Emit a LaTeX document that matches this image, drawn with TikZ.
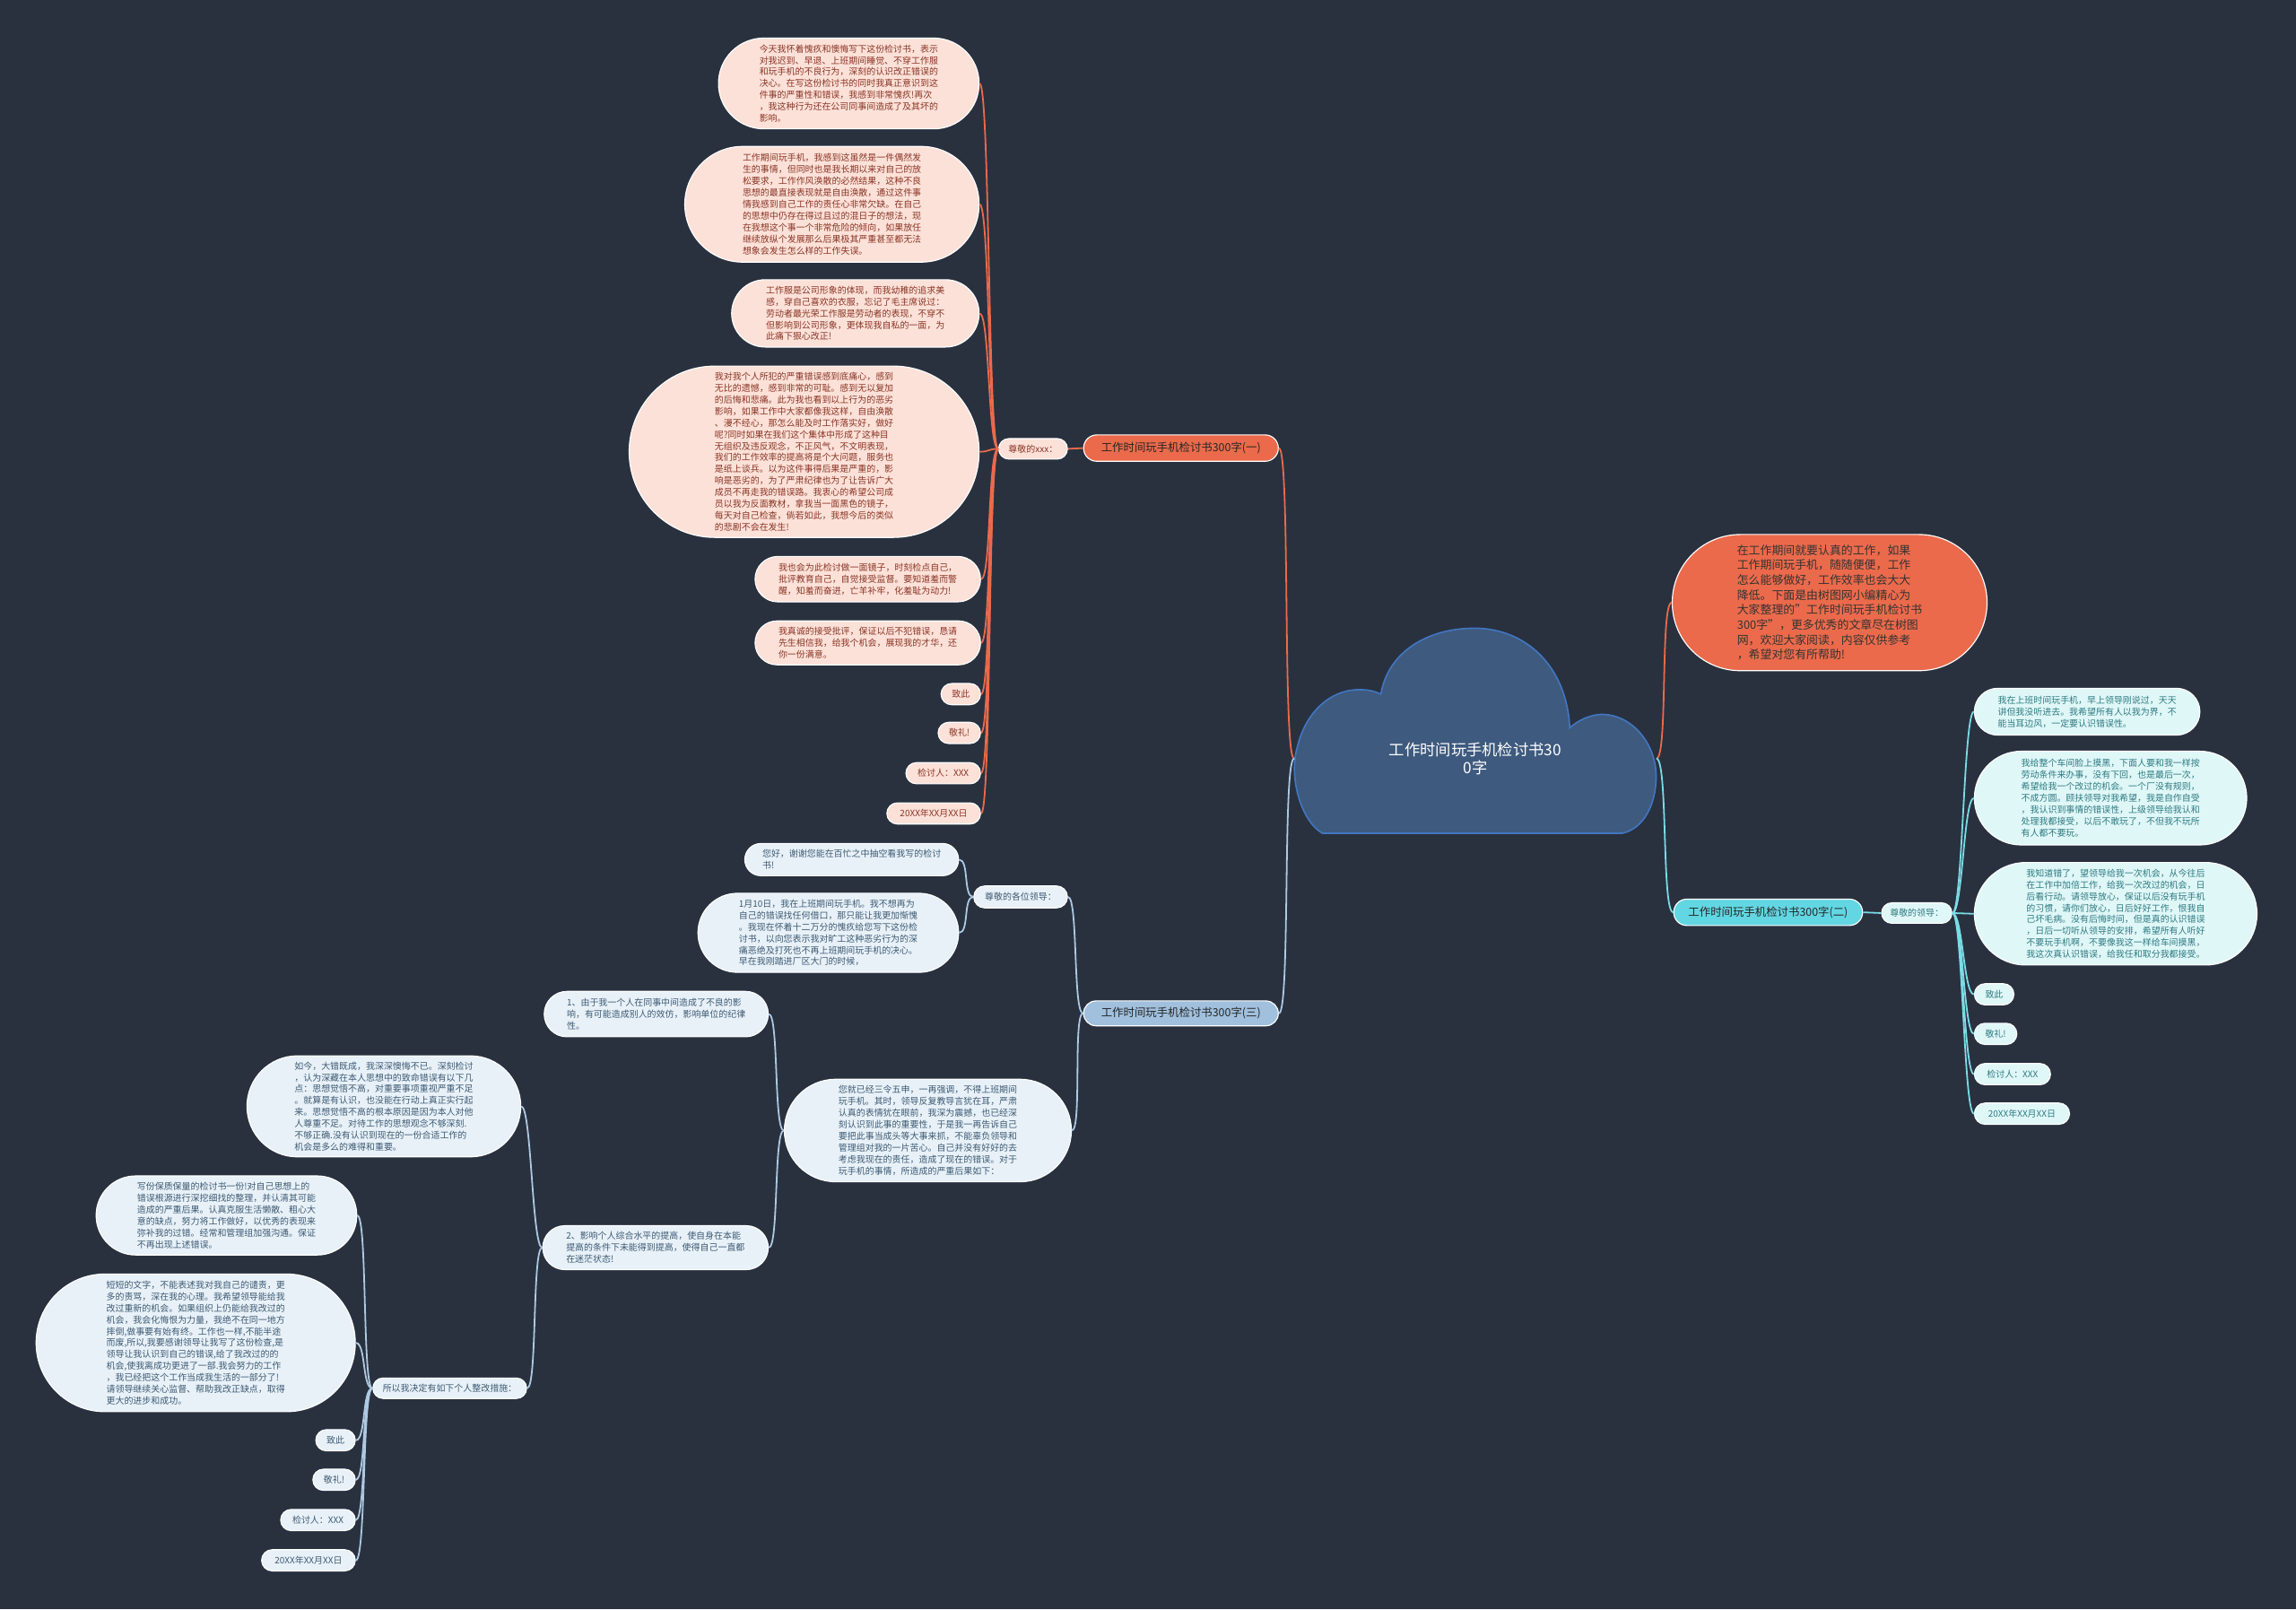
\documentclass[tikz,border=0pt]{standalone}
\usepackage{fontspec}
\setmainfont{Noto Sans CJK SC}
\usetikzlibrary{shapes.misc}
\definecolor{night}{HTML}{29313F}
\definecolor{coral}{HTML}{EB6A4B}
\definecolor{peach}{HTML}{FCE1D8}
\definecolor{rust}{HTML}{8A3526}
\definecolor{aqua}{HTML}{62D6E2}
\definecolor{aquapale}{HTML}{E0F7F7}
\definecolor{teal}{HTML}{2C7A82}
\definecolor{steel}{HTML}{A0C0DD}
\definecolor{steelpale}{HTML}{E8F1F8}
\definecolor{slate}{HTML}{3D5A73}
\definecolor{cloudfill}{HTML}{3E5A7E}
\definecolor{cloudedge}{HTML}{4276C2}

\begin{document}
\begin{tikzpicture}[x=1pt, y=-1pt,
    pill/.style={rounded rectangle, draw=white, line width=0.7pt, inner sep=0pt,
                 align=left, font=\fontsize{6.1}{7.9}\selectfont, minimum height=14.5pt},
    sz/.style 2 args={minimum width=#1pt, minimum height=#2pt},
    rleaf/.style={pill, fill=peach, text=rust, anchor=east},
    cleaf/.style={pill, fill=aquapale, text=teal, anchor=west},
    bleaf/.style={pill, fill=steelpale, text=slate, anchor=east},
    branch/.style={pill, font=\fontsize{7.6}{9}\selectfont, text=black!85},
    rlink/.style={draw=coral, line width=1.1pt},
    clink/.style={draw=aqua!85!white, line width=1.1pt},
    blink/.style={draw=steel!85!white, line width=1.1pt},
  ]
  \fill[night] (0,0) rectangle (1568,1099);
  \useasboundingbox (0,0) rectangle (1568,1099);

  % cloud
  \draw[fill=cloudfill, draw=cloudedge, line width=1pt] (903,569)
    .. controls (888,560) and (880,530) .. (886,510)
    .. controls (892,485) and (910,470) .. (930,471)
    .. controls (936,471) and (941,473) .. (943,474)
    .. controls (948,445) and (975,429) .. (1007,429)
    .. controls (1042,429) and (1070,455) .. (1072,497)
    .. controls (1080,490) and (1090,487) .. (1097,488)
    .. controls (1117,490) and (1131,510) .. (1131,530)
    .. controls (1131,550) and (1122,566) .. (1108,569)
    -- cycle;
  \node[align=center, text=white, font=\fontsize{10.6}{12.5}\selectfont,
        inner sep=0pt, minimum width=247pt, minimum height=60pt] (root) at (1007.5,518)
    {工作时间玩手机检讨书30\\0字};

  % red branch
  \node[branch, fill=coral, sz={133}{18}] (one) at (806.5,306) {工作时间玩手机检讨书300字(一)};
  \node[pill, fill=peach, text=rust, sz={47}{14}] (dearx) at (705.5,306.5) {尊敬的xxx：};
  \node[rleaf, sz={178}{62}] (r1) at (669,57) {今天我怀着愧疚和懊悔写下这份检讨书，表示\\对我迟到、早退、上班期间睡觉、不穿工作服\\和玩手机的不良行为，深刻的认识改正错误的\\决心。在写这份检讨书的同时我真正意识到这\\件事的严重性和错误，我感到非常愧疚!再次\\，我这种行为还在公司同事间造成了及其坏的\\影响。};
  \node[rleaf, sz={201}{79}] (r2) at (669,139.5) {工作期间玩手机，我感到这虽然是一件偶然发\\生的事情，但同时也是我长期以来对自己的放\\松要求，工作作风涣散的必然结果，这种不良\\思想的最直接表现就是自由涣散，通过这件事\\情我感到自己工作的责任心非常欠缺。在自己\\的思想中仍存在得过且过的混日子的想法，现\\在我想这个事一个非常危险的倾向，如果放任\\继续放纵个发展那么后果极其严重甚至都无法\\想象会发生怎么样的工作失误。};
  \node[rleaf, sz={169}{46}] (r3) at (669,214) {工作服是公司形象的体现，而我幼稚的追求美\\感，穿自己喜欢的衣服，忘记了毛主席说过：\\劳动者最光荣工作服是劳动者的表现，不穿不\\但影响到公司形象，更体现我自私的一面，为\\此痛下狠心改正!};
  \node[rleaf, sz={239}{117}] (r4) at (669,308.5) {我对我个人所犯的严重错误感到底痛心，感到\\无比的遗憾，感到非常的可耻。感到无以复加\\的后悔和悲痛。此为我也看到以上行为的恶劣\\影响，如果工作中大家都像我这样，自由涣散\\、漫不经心，那怎么能及时工作落实好，做好\\呢?同时如果在我们这个集体中形成了这种目\\无组织及违反观念，不正风气，不文明表现，\\我们的工作效率的提高将是个大问题，服务也\\是纸上谈兵。以为这件事得后果是严重的，影\\响是恶劣的，为了严肃纪律也为了让告诉广大\\成员不再走我的错误路。我衷心的希望公司成\\员以我为反面教材，拿我当一面黑色的镜子，\\每天对自己检查，倘若如此，我想今后的类似\\的悲剧不会在发生!};
  \node[rleaf, sz={154}{31}] (r5) at (670,395.5) {我也会为此检讨做一面镜子，时刻检点自己，\\批评教育自己，自觉接受监督。要知道羞而警\\醒，知羞而奋进，亡羊补牢，化羞耻为动力!};
  \node[rleaf, sz={154}{30}] (r6) at (670,439) {我真诚的接受批评，保证以后不犯错误，恳请\\先生相信我，给我个机会，展现我的才华，还\\你一份满意。};
  \node[rleaf, sz={27}{14.5}] (r7) at (670,474) {致此};
  \node[rleaf, sz={29}{14.5}] (r8) at (670,500.5) {敬礼!};
  \node[rleaf, sz={51}{14.5}] (r9) at (670,528) {检讨人：XXX};
  \node[rleaf, sz={64}{14.5}] (r10) at (670,555.5) {20XX年XX月XX日};

  % intro
  \node[pill, fill=coral, text=black!80, font=\fontsize{7.9}{10.2}\selectfont, sz={215}{93}] (intro) at (1249.5,411.5) {在工作期间就要认真的工作，如果\\工作期间玩手机，随随便便，工作\\怎么能够做好，工作效率也会大大\\降低。下面是由树图网小编精心为\\大家整理的"工作时间玩手机检讨书\\300字"，更多优秀的文章尽在树图\\网，欢迎大家阅读，内容仅供参考\\，希望对您有所帮助!};

  % cyan branch
  \node[branch, fill=aqua, sz={129}{18}] (two) at (1207.5,623) {工作时间玩手机检讨书300字(二)};
  \node[pill, fill=aquapale, text=teal, sz={48}{14}] (dearl) at (1309,623.5) {尊敬的领导：};
  \node[cleaf, sz={154}{32}] (g1) at (1348,486) {我在上班时间玩手机，早上领导刚说过，天天\\讲但我没听进去。我希望所有人以我为界，不\\能当耳边风，一定要认识错误性。};
  \node[cleaf, sz={186}{64}] (g2) at (1348,545) {我给整个车间脸上摸黑，下面人要和我一样按\\劳动条件来办事，没有下回，也是最后一次，\\希望给我一个改过的机会。一个厂没有规则，\\不成方圆。顾扶领导对我希望，我是自作自受\\，我认识到事情的错误性，上级领导给我认和\\处理我都接受，以后不敢玩了，不但我不玩所\\有人都不要玩。};
  \node[cleaf, sz={193}{70}] (g3) at (1348,624) {我知道错了，望领导给我一次机会，从今往后\\在工作中加倍工作，给我一次改过的机会，日\\后看行动。请领导放心，保证以后没有玩手机\\的习惯，请你们放心，日后好好工作，恨我自\\己坏毛病。没有后悔时间，但是真的认识错误\\，日后一切听从领导的安排，希望所有人听好\\不要玩手机啊，不要像我这一样给车间摸黑，\\我这次真认识错误，给我任和取分我都接受。};
  \node[cleaf, sz={27}{14.5}] (g4) at (1348,679) {致此};
  \node[cleaf, sz={29}{14.5}] (g5) at (1348,706) {敬礼!};
  \node[cleaf, sz={52}{14.5}] (g6) at (1348,733.5) {检讨人：XXX};
  \node[cleaf, sz={65}{14.5}] (g7) at (1348,760.5) {20XX年XX月XX日};

  % blue branch
  \node[branch, fill=steel, sz={133}{17}] (three) at (806.5,692) {工作时间玩手机检讨书300字(三)};
  \node[pill, fill=steelpale, text=slate, sz={64}{15}] (deara) at (697,612.5) {尊敬的各位领导：};
  \node[bleaf, sz={146}{22}] (b1) at (655,587) {您好，谢谢您能在百忙之中抽空看我写的检讨\\书!};
  \node[bleaf, sz={178}{54}] (b2) at (655,637) {1月10日，我在上班期间玩手机。我不想再为\\自己的错误找任何借口，那只能让我更加惭愧\\。我现在怀着十二万分的愧疚给您写下这份检\\讨书，以向您表示我对旷工这种恶劣行为的深\\痛恶绝及打死也不再上班期间玩手机的决心。\\早在我刚踏进厂区大门的时候，};
  \node[bleaf, sz={196}{70}] (b3) at (732,772) {您就已经三令五申，一再强调，不得上班期间\\玩手机。其时，领导反复教导言犹在耳，严肃\\认真的表情犹在眼前，我深为震撼，也已经深\\刻认识到此事的重要性，于是我一再告诉自己\\要把此事当成头等大事来抓，不能辜负领导和\\管理组对我的一片苦心。自己并没有好好的去\\考虑我现在的责任，造成了现在的错误。对于\\玩手机的事情，所造成的严重后果如下：};
  \node[bleaf, sz={153}{31}] (c1) at (525,692.5) {1、由于我一个人在同事中间造成了不良的影\\响，有可能造成别人的效仿，影响单位的纪律\\性。};
  \node[bleaf, sz={154}{30}] (c2) at (525,852) {2、影响个人综合水平的提高，使自身在本能\\提高的条件下未能得到提高，使得自己一直都\\在迷茫状态!};
  \node[bleaf, sz={187}{69}] (d1) at (356,755.5) {如今，大错既成，我深深懊悔不已。深刻检讨\\，认为深藏在本人思想中的致命错误有以下几\\点：思想觉悟不高，对重要事项重视严重不足\\。就算是有认识，也没能在行动上真正实行起\\来。思想觉悟不高的根本原因是因为本人对他\\人尊重不足。对待工作的思想观念不够深刻.\\不够正确.没有认识到现在的一份合适工作的\\机会是多么的难得和重要。};
  \node[bleaf, sz={105}{14}] (d2) at (360,948) {所以我决定有如下个人整改措施：};
  \node[bleaf, sz={178}{54}] (e1) at (244,830) {写份保质保量的检讨书一份!对自己思想上的\\错误根源进行深挖细找的整理，并认清其可能\\造成的严重后果。认真克服生活懒散、粗心大\\意的缺点，努力将工作做好，以优秀的表现来\\弥补我的过错。经常和管理组加强沟通。保证\\不再出现上述错误。};
  \node[bleaf, sz={218}{94}] (e2) at (243,917) {短短的文字，不能表述我对我自己的谴责，更\\多的责骂，深在我的心理。我希望领导能给我\\改过重新的机会。如果组织上仍能给我改过的\\机会，我会化悔恨为力量，我绝不在同一地方\\摔倒,做事要有始有终。工作也一样,不能半途\\而废,所以,我要感谢领导让我写了这份检查,是\\领导让我认识到自己的错误,给了我改过的的\\机会,使我离成功更进了一部.我会努力的工作\\，我已经把这个工作当成我生活的一部分了!\\请领导继续关心监督、帮助我改正缺点，取得\\更大的进步和成功。};
  \node[bleaf, sz={27}{14.5}] (e3) at (243,983.5) {致此};
  \node[bleaf, sz={29}{14.5}] (e4) at (243,1010.5) {敬礼!};
  \node[bleaf, sz={51}{14.5}] (e5) at (243,1038) {检讨人：XXX};
  \node[bleaf, sz={64}{14.5}] (e6) at (243,1065.5) {20XX年XX月XX日};

  % links
  \draw[rlink] (root.west) .. controls +(-8,0) and +(8,0) .. (one.east);
  \draw[rlink] (one.west) -- (dearx.east);
  \foreach \i in {1,...,10}
    \draw[rlink] (dearx.west) .. controls +(-7,0) and +(7,0) .. (r\i.east);
  \draw[rlink] (root.east) .. controls +(8,0) and +(-8,0) .. (intro.west);
  \draw[clink] (root.east) .. controls +(8,0) and +(-8,0) .. (two.west);
  \draw[clink] (two.east) -- (dearl.west);
  \foreach \i in {1,...,7}
    \draw[clink] (dearl.east) .. controls +(7,0) and +(-7,0) .. (g\i.west);
  \draw[blink] (root.west) .. controls +(-8,0) and +(8,0) .. (three.east);
  \draw[blink] (three.west) .. controls +(-7,0) and +(7,0) .. (deara.east);
  \draw[blink] (three.west) .. controls +(-7,0) and +(7,0) .. (b3.east);
  \draw[blink] (deara.west) .. controls +(-7,0) and +(7,0) .. (b1.east);
  \draw[blink] (deara.west) .. controls +(-7,0) and +(7,0) .. (b2.east);
  \draw[blink] (b3.west) .. controls +(-7,0) and +(7,0) .. (c1.east);
  \draw[blink] (b3.west) .. controls +(-7,0) and +(7,0) .. (c2.east);
  \draw[blink] (c2.west) .. controls +(-7,0) and +(7,0) .. (d1.east);
  \draw[blink] (c2.west) .. controls +(-7,0) and +(7,0) .. (d2.east);
  \foreach \i in {1,...,6}
    \draw[blink] (d2.west) .. controls +(-7,0) and +(7,0) .. (e\i.east);
\end{tikzpicture}
\end{document}
